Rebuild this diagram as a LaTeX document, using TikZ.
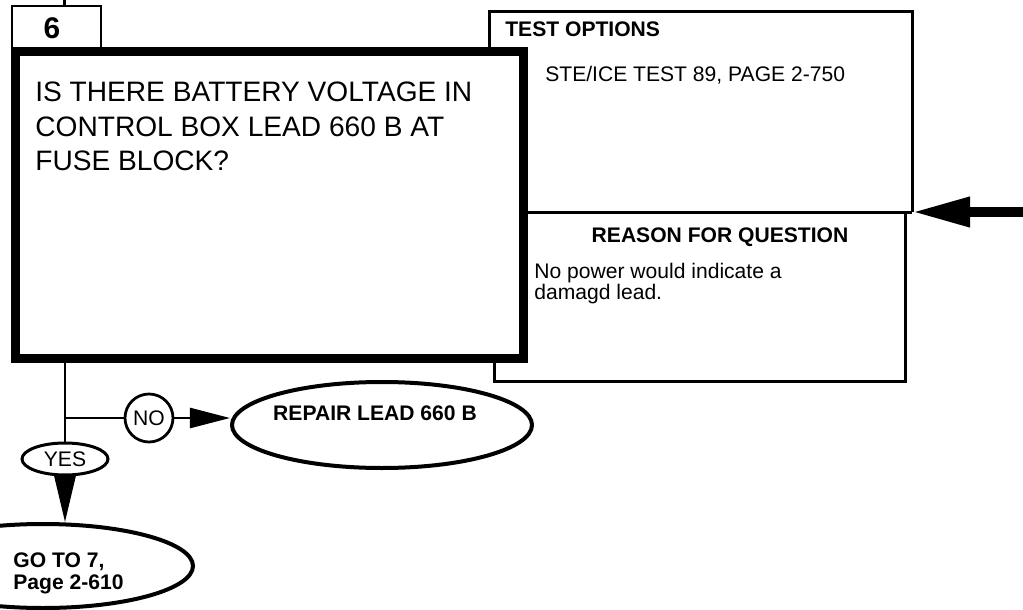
\documentclass[tikz,border=0pt]{standalone}
\usepackage{fontspec}
\setmainfont{Liberation Sans}
\usetikzlibrary{arrows.meta,positioning,shapes.geometric}
\definecolor{Ink}{HTML}{000000}
\definecolor{Paper}{HTML}{FFFFFF}
\tikzset{
  stepbox/.style={draw=Ink, line width=1.8mm},
  tabbox/.style={draw=Ink, line width=.45mm, fill=Paper},
  frame/.style={draw=Ink, line width=.6mm},
  oval/.style={ellipse, draw=Ink, line width=.7mm, inner sep=0pt},
  link/.style={draw=Ink, line width=.5mm},
  arr/.style={link, -{Triangle[length=8mm,width=4mm]}},
  feed/.style={draw=Ink, line width=2mm, -{Triangle[length=11.6mm,width=5.6mm]}},
  head/.style={font=\fontsize{12}{12.5}\selectfont\bfseries, inner sep=0pt},
  txt/.style={font=\fontsize{12}{12}\selectfont, inner sep=0pt}
}

\begin{document}
\begin{tikzpicture}[x=0.2mm,y=-0.2mm]
  \useasboundingbox (0,0) rectangle (1023,610);
  \fill[Paper] (0,0) rectangle (1023,610);
  \clip (0,0) rectangle (1023,610);
  % side panels
  \draw[frame] (489,52) |- (912,12) -- (912,212);
  \draw[frame] (523,212) -- (912,212);
  \draw[frame] (905,212) |- (494,381) -- (494,358);
  % question block
  \node[tabbox, minimum width=17.8mm, minimum height=8.4mm] (tab) at (56.5,27) {};
  \node[stepbox, minimum width=101.4mm, minimum height=61.2mm] (question) at (269.5,205) {};
  \node[font=\fontsize{17}{17}\selectfont\bfseries, inner sep=0pt] (num) at (52,28.5) {6};
  \node[anchor=north west, align=left, inner sep=0pt, font=\fontsize{16}{19.4}\selectfont] (asks) at (35,82)
    {IS THERE BATTERY VOLTAGE IN\\CONTROL BOX LEAD 660 B AT\\FUSE BLOCK?};
  \node[head, anchor=base west] (opthead) at (505,37) {TEST OPTIONS};
  \node[txt, anchor=base west] (opttext) at (545,82) {STE/ICE TEST 89, PAGE 2-750};
  \node[head, anchor=base] (whyhead) at (720,242) {REASON FOR QUESTION};
  \node[txt, anchor=north west, align=left] (whytext) at (534,263) {No power would indicate a\\damagd lead.};
  % answers
  \node[oval, line width=.6mm, minimum width=17.2mm, minimum height=6.4mm, txt] (yes) at (65,459) {YES};
  \node[circle, draw=Ink, line width=.55mm, minimum size=9.6mm, txt] (no) at (149,418) {NO};
  \node[oval, line width=.8mm, minimum width=60mm, minimum height=17.2mm] (repair) at (382,425) {};
  \node[head] (repairtxt) at (375,413) {REPAIR LEAD 660 B};
  \node[oval, line width=.8mm, minimum width=60mm, minimum height=16.8mm] (goto) at (43,566) {};
  \node[head, anchor=north west, align=left] (gototxt) at (13,552) {GO TO 7,\\Page 2-610};
  % connectors
  \coordinate (entry) at (64.5,0);
  \coordinate (split) at (64.5,418);
  \coordinate (src) at (1023,212);
  \coordinate (optjoin) at (912,212);
  \draw[link] (entry) -- (entry |- tab.north);
  \draw[link] (question.south -| yes.north) -- (yes.north);
  \draw[link] (split) -- (no);
  \draw[arr] (no) -- (repair.west |- no);
  \draw[arr, -{Triangle[length=9.6mm,width=4.4mm]}] (yes) -- (yes.south |- goto.north);
  \draw[feed] (src) -- (optjoin);
\end{tikzpicture}
\end{document}
